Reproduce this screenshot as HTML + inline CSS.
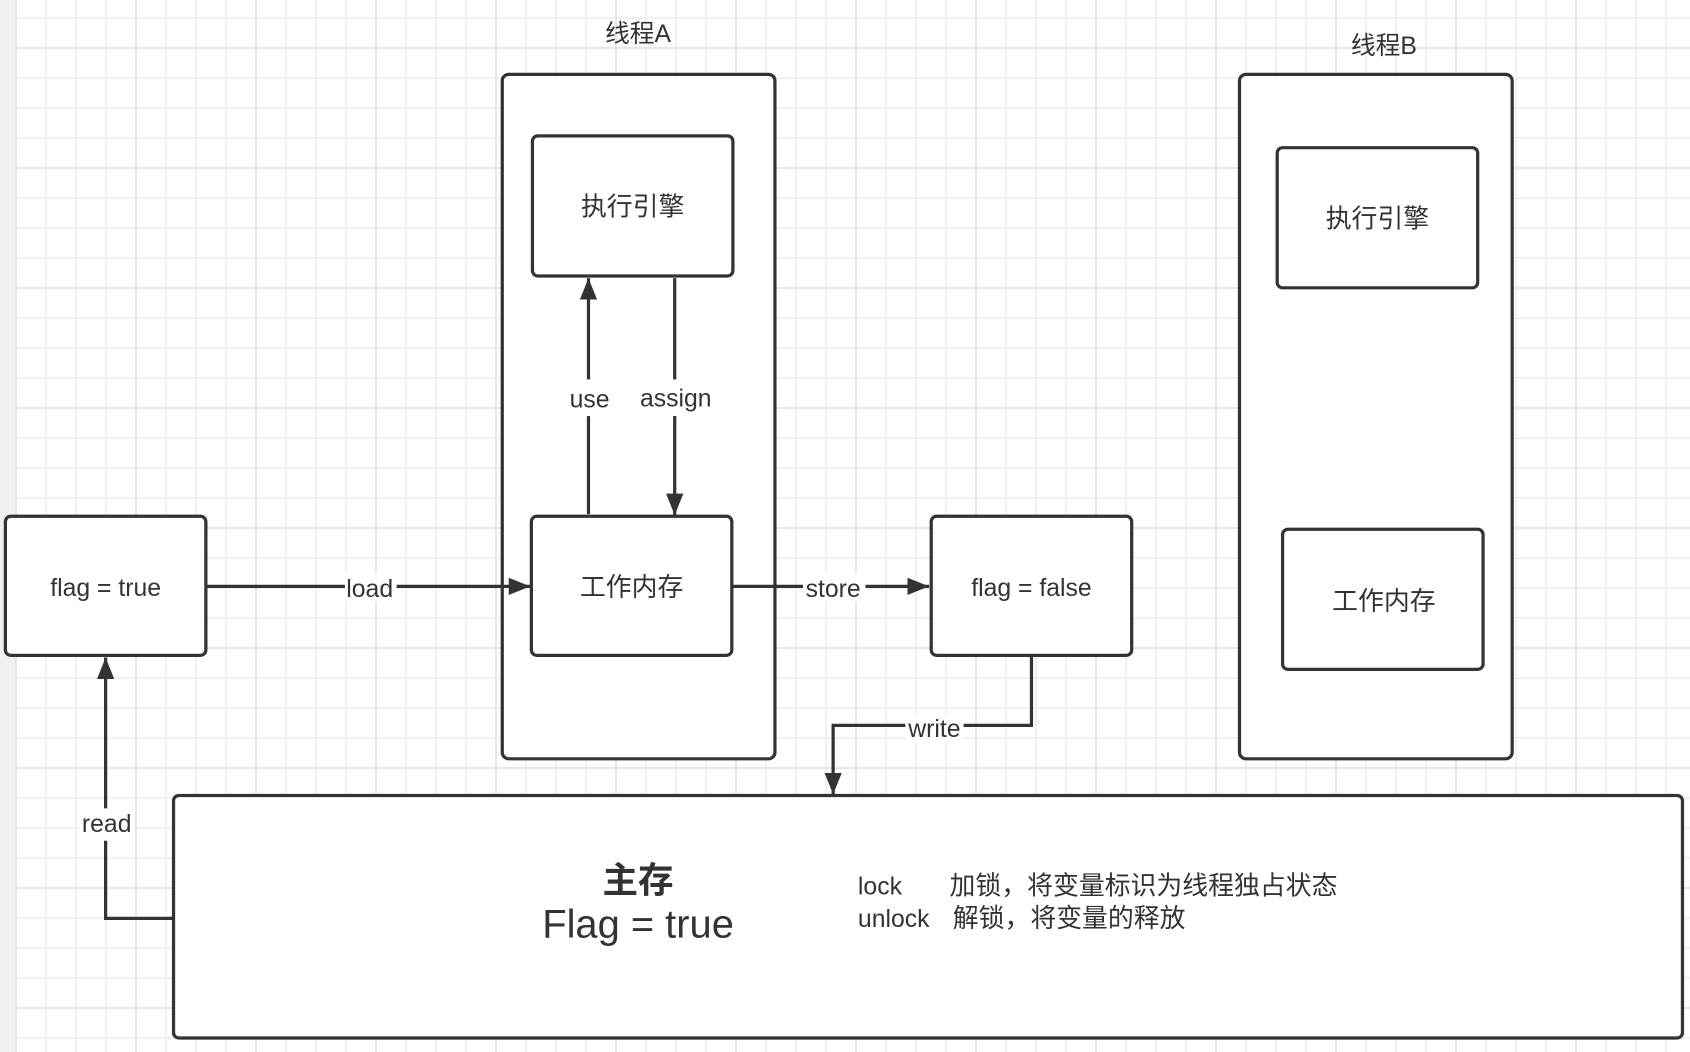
<!DOCTYPE html>
<html><head><meta charset="utf-8"><style>
html,body{margin:0;padding:0;}
body{width:1690px;height:1052px;overflow:hidden;position:relative;background:#fff;
background-image:
linear-gradient(to right,#e6e6e6 2px,transparent 2px),
linear-gradient(to bottom,#e6e6e6 2px,transparent 2px),
linear-gradient(to right,#f1f1f1 2px,transparent 2px),
linear-gradient(to bottom,#f1f1f1 2px,transparent 2px);
background-size:120px 120px,120px 120px,30px 30px,30px 30px;
background-position:15px 0,0 47px,15px 0,0 17px;}
.strip{position:absolute;left:0;top:0;width:15px;height:1052px;background:#f1f1f1;}
svg{position:absolute;left:0;top:0;}
text{font-family:"Liberation Sans","Noto Sans CJK SC",sans-serif;fill:#333;}
</style></head><body>
<div class="strip"></div>
<svg width="1690" height="1052" viewBox="0 0 1568 976">
<defs>
<marker id="b" markerWidth="20" markerHeight="16" refX="20" refY="8" orient="auto" markerUnits="userSpaceOnUse" viewBox="0 0 20 16"><path d="M0,0 L20,8 L0,16 z" fill="#333"/></marker></defs>
<g fill="#fff" stroke="#333" stroke-width="3">
<rect x="466" y="69" width="253" height="635" rx="6"/>
<rect x="1150" y="69" width="253" height="635" rx="6"/>
<rect x="494" y="126" width="186" height="130" rx="5"/>
<rect x="493" y="479" width="186" height="129" rx="5"/>
<rect x="1185" y="137" width="186" height="130" rx="5"/>
<rect x="1190" y="491" width="186" height="130" rx="5"/>
<rect x="5" y="479" width="186" height="129" rx="5"/>
<rect x="864" y="479" width="186" height="129" rx="5"/>
<rect x="161" y="738" width="1400" height="225" rx="5"/>
</g>
<g stroke="#333" stroke-width="3" fill="none">
<path d="M191,544 H492" marker-end="url(#b)"/>
<path d="M679,544 H862" marker-end="url(#b)"/>
<path d="M546,477 V258" marker-end="url(#b)"/>
<path d="M626,258 V478" marker-end="url(#b)"/>
<path d="M957,608 V673 H773 V737" marker-end="url(#b)"/>
<path d="M161,852 H98 V610" marker-end="url(#b)"/>
</g>
<g fill="#fff">
<rect x="320" y="532" width="48" height="26"/>
<rect x="745" y="532" width="58" height="26"/>
<rect x="526" y="352" width="42" height="34"/>
<rect x="592" y="352" width="70" height="34"/>
<rect x="840" y="662" width="54" height="26"/>
<rect x="74" y="750" width="50" height="30"/>
</g>
<g font-size="23" text-anchor="middle">
<text x="592" y="39">线程A</text>
<text x="1284" y="50">线程B</text>
<text x="587" y="200" font-size="24">执行引擎</text>
<text x="586" y="553" font-size="24">工作内存</text>
<text x="1278" y="211" font-size="24">执行引擎</text>
<text x="1284" y="566" font-size="24">工作内存</text>
<text x="98" y="553">flag = true</text>
<text x="957" y="553">flag = false</text>
<text x="343" y="554">load</text>
<text x="773" y="554">store</text>
<text x="547" y="378">use</text>
<text x="627" y="377">assign</text>
<text x="867" y="684">write</text>
<text x="99" y="772">read</text>
<text x="592" y="828" font-size="33" font-weight="bold">主存</text>
<text x="592" y="870" font-size="37">Flag = true</text>
</g>
<g font-size="23">
<text x="796" y="830">lock</text>
<text x="881" y="830" font-size="24">加锁，将变量标识为线程独占状态</text>
<text x="796" y="860">unlock</text>
<text x="884" y="860" font-size="24">解锁，将变量的释放</text>
</g>
</svg>
</body></html>
